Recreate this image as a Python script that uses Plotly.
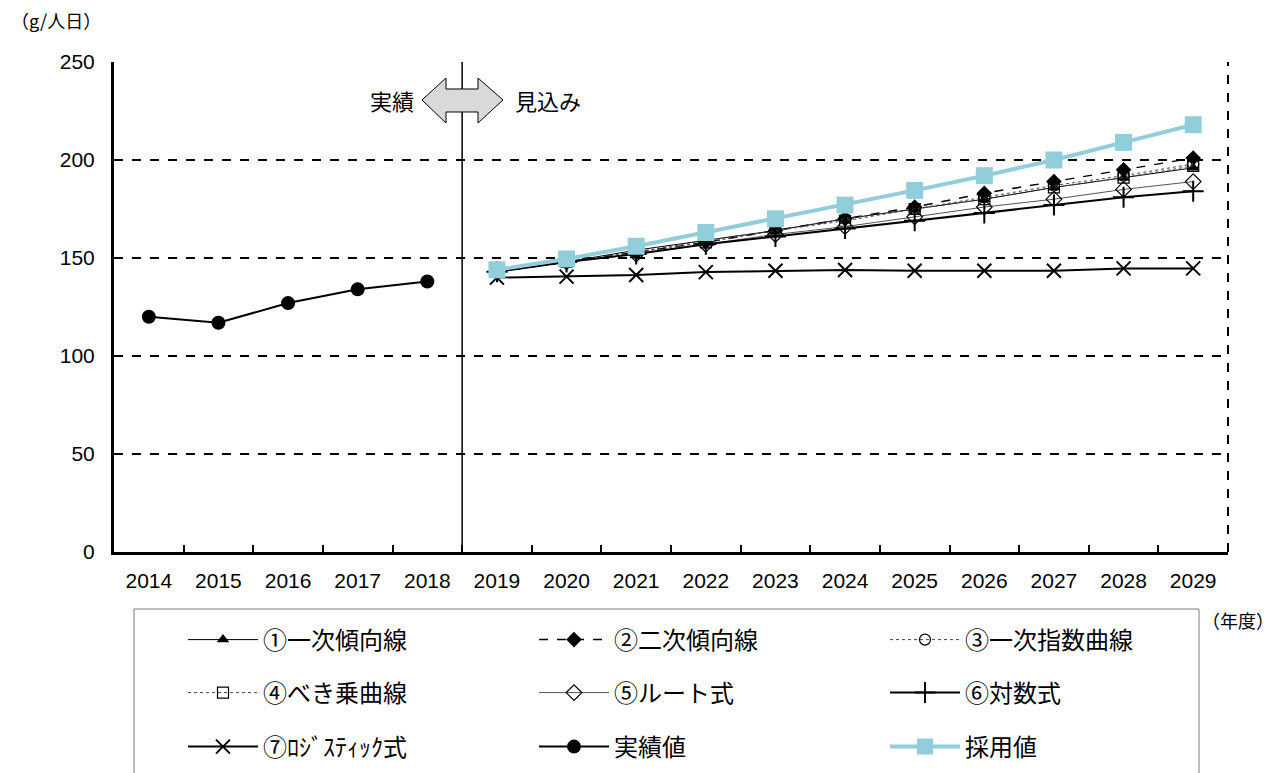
import plotly.graph_objects as go

# ---- data ----
years = [str(y) for y in range(2014, 2030)]
actual_years = years[:5]
forecast_years = years[5:]

actual = [120, 117, 127, 134, 138]
linear = [143, 148, 154, 159, 164, 170, 175, 180, 186, 191, 196]
quadratic = [143, 148, 153, 158, 164, 170, 176, 183, 189, 195, 201]
exponential = [143, 148, 153, 159, 164, 170, 175, 181, 187, 192, 198]
power = [143, 148, 153, 158, 164, 169, 175, 180, 186, 191, 197]
root = [143, 148, 152, 157, 162, 166, 171, 176, 180, 185, 189]
logarithmic = [143, 148, 152, 157, 161, 165, 169, 173, 177, 181, 184]
logistic = [140, 140.5, 141.3, 142.8, 143.5, 143.9, 143.5, 143.5, 143.5, 144.7, 144.7]
adopted = [144, 149.5, 156, 163, 170, 177, 184.5, 192, 200, 209, 218]

names = ["①一次傾向線", "②二次傾向線", "③一次指数曲線",
         "④べき乗曲線", "⑤ルート式", "⑥対数式",
         "⑦ﾛｼﾞｽﾃｨｯｸ式", "実績値", "採用値"]

# page offset (body margin) compensation
OFF = 8
W, H = 1277 - OFF, 773 - OFF
# plot area in screen pixels
L, R, T, B = 114, 1228, 62, 552
JP = "Noto Sans CJK JP"
NUM = "Liberation Sans, Arial, Noto Sans CJK JP"


def px(x):
    return (x - L) / (R - L)


def py(y):
    return (B - y) / (B - T)


fig = go.Figure()

def add(x, y, name, legend, line, marker):
    fig.add_trace(go.Scatter(x=x, y=y, name=name, mode="lines+markers",
                             line=line, marker=marker, legend=legend))

add(forecast_years, linear, names[0], "legend",
    dict(color="black", width=1), dict(symbol="triangle-up", size=11, color="black"))
add(forecast_years, quadratic, names[1], "legend",
    dict(color="black", width=1.5, dash="dash"), dict(symbol="diamond", size=12, color="black"))
add(forecast_years, exponential, names[2], "legend",
    dict(color="#444444", width=1, dash="dot"),
    dict(symbol="circle-open", size=11, color="black", line=dict(width=1.2)))
add(forecast_years, power, names[3], "legend2",
    dict(color="#444444", width=1, dash="dot"),
    dict(symbol="square-open", size=11, color="black", line=dict(width=1.2)))
add(forecast_years, root, names[4], "legend2",
    dict(color="#555555", width=1),
    dict(symbol="diamond-open", size=12, color="black", line=dict(width=1.2)))
add(forecast_years, logarithmic, names[5], "legend2",
    dict(color="black", width=2),
    dict(symbol="cross-thin-open", size=15, color="black", line=dict(width=2)))
add(forecast_years, logistic, names[6], "legend3",
    dict(color="black", width=2),
    dict(symbol="x-thin-open", size=14, color="black", line=dict(width=2)))
add(actual_years, actual, names[7], "legend3",
    dict(color="black", width=2), dict(symbol="circle", size=14, color="black"))
add(forecast_years, adopted, names[8], "legend3",
    dict(color="#92CDDC", width=4), dict(symbol="square", size=17, color="#92CDDC"))

# separator line between actual / forecast
fig.add_shape(type="line", xref="x", yref="y", x0=4.5, x1=4.5, y0=0, y1=250,
              line=dict(color="black", width=1.5))
# dashed right border of plot area
fig.add_shape(type="line", xref="paper", yref="paper", x0=1, x1=1, y0=0, y1=1,
              line=dict(color="black", width=2, dash="dash"))

# double arrow
pts = [(422, 100), (446, 78), (446, 89), (478, 89), (478, 78), (503, 100),
       (478, 123), (478, 112), (446, 112), (446, 123)]
path = "M " + " L ".join(f"{px(a):.5f},{py(b):.5f}" for a, b in pts) + " Z"
fig.add_shape(type="path", xref="paper", yref="paper", path=path,
              fillcolor="#D9D9D9", line=dict(color="black", width=1))

# legend frame
fig.add_shape(type="rect", xref="paper", yref="paper",
              x0=px(134), x1=px(1199), y0=py(790), y1=py(609),
              line=dict(color="#7F7F7F", width=1))

def note(x, y, text, size, xanchor="center"):
    fig.add_annotation(x=px(x), y=py(y), xref="paper", yref="paper", text=text,
                       xanchor=xanchor, yanchor="middle", showarrow=False,
                       font=dict(family=JP, size=size, color="black"))

note(392, 100, "実績", 22)
note(548, 100, "見込み", 22)
note(9, 20, "（g/人日）", 18, "left")
note(1200, 620, "（年度）", 18, "left")

leg_common = dict(orientation="h", xanchor="left", yanchor="middle",
                  font=dict(family=JP, size=24, color="black"),
                  itemwidth=70, entrywidth=266, bgcolor="rgba(0,0,0,0)",
                  borderwidth=0, itemclick=False)

fig.update_layout(
    width=W, height=H,
    margin=dict(l=L - OFF, r=W - (R - OFF), t=T - OFF, b=H - (B - OFF), autoexpand=False),
    plot_bgcolor="white", paper_bgcolor="white",
    legend=dict(x=px(183), y=py(640), **leg_common),
    legend2=dict(x=px(183), y=py(693), **leg_common),
    legend3=dict(x=px(183), y=py(747), **leg_common),
    xaxis=dict(type="category", categoryorder="array", categoryarray=years,
               range=[-0.5, 15.5], showline=True, linecolor="black", linewidth=3,
               ticks="inside", tickson="boundaries", ticklen=7, tickwidth=2,
               tickcolor="black", showgrid=False, ticklabelstandoff=8,
               tickfont=dict(family=NUM, size=21, color="black")),
    yaxis=dict(range=[0, 250], dtick=50, showline=True, linecolor="black", linewidth=3,
               showgrid=True, gridcolor="black", gridwidth=1.5, griddash="dash",
               zeroline=False, ticks="", ticklabelstandoff=12,
               tickfont=dict(family=NUM, size=21, color="black")),
)

fig.write_html("out.html")
